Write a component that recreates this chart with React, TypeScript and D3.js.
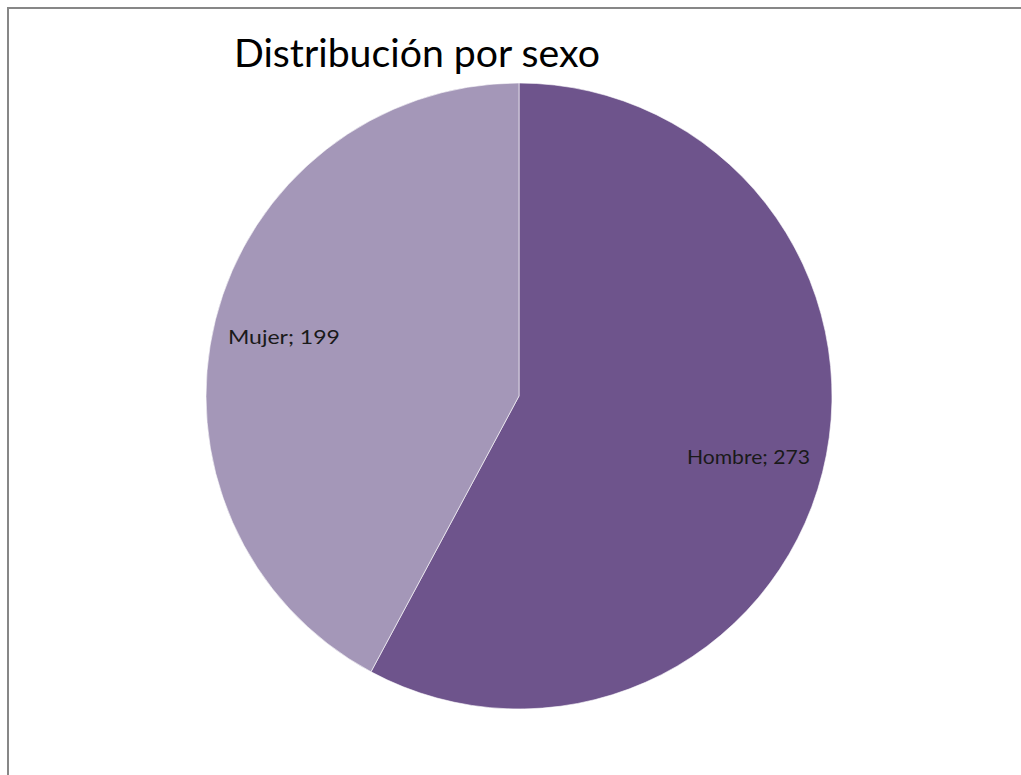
import React from "react";
import * as d3 from "d3";

const categories = ["Hombre", "Mujer"];
const values = [273, 199];
const colors = ["#6E548C", "#A497B8"];
const title = "Distribución por sexo";

export default function App() {
  const W = 1021;
  const H = 775;
  const cx = 519;
  const cy = 396;
  const r = 313;
  const data = categories.map((c, i) => ({ name: c, value: values[i], color: colors[i] }));
  const pie = d3.pie<any>().sort(null).value((d: any) => d.value);
  const arcs = pie(data);
  const arc = d3.arc<any>().innerRadius(0).outerRadius(r);
  const labelArc = d3.arc<any>().innerRadius(248).outerRadius(248);
  return (
    <svg
      width={W}
      height={H}
      style={{ position: "absolute", left: 0, top: 0, background: "#fff" }}
      fontFamily="Lato, 'Open Sans', sans-serif"
    >
      <rect x={0} y={0} width={W} height={H} fill="#fff" />
      <rect x={8} y={8} width={1200} height={900} fill="none" stroke="#878787" strokeWidth={2} />
      <text x={234} y={67} fontSize={38} fill="#000" textLength={366} lengthAdjust="spacingAndGlyphs">
        {title}
      </text>
      <g transform={`translate(${cx},${cy})`}>
        {arcs.map((a, i) => (
          <path key={i} d={arc(a) as string} fill={a.data.color} stroke="#fff" strokeWidth={0.6} />
        ))}
        {arcs.map((a, i) => {
          let [x, y] = labelArc.centroid(a);
          const label = `${a.data.name}; ${a.data.value}`;
          const w = label.length * 11.2;
          const maxExt = Math.sqrt(r * r - y * y) - 16;
          if (Math.abs(x) + w / 2 > maxExt) x = Math.sign(x) * (maxExt - w / 2);
          return (
            <text
              key={"l" + i}
              x={x}
              y={y}
              textAnchor="middle"
              dominantBaseline="central"
              fontSize={20}
              fill="#1a1a1a"
              textLength={w}
              lengthAdjust="spacingAndGlyphs"
            >
              {label}
            </text>
          );
        })}
      </g>
    </svg>
  );
}
